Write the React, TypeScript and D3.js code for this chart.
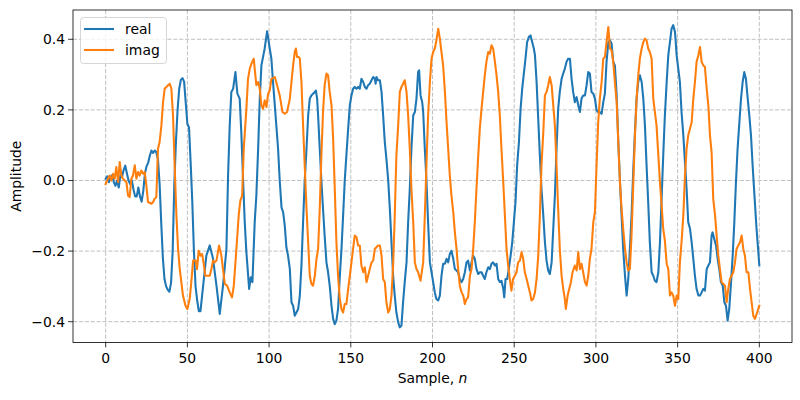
import * as d3 from 'd3'

// [sample n, amplitude]
const realPts: [number, number][] = [
  [0,0.005],[1,0.012],[2,-0.005],[3,0.01],[4,0.015],[5,-0.005],[6,-0.015],[7,0.0],[8,-0.02],[9,0.015],[10,0.01],[11,0.03],[12,0.042],[13,0.02],[14,0.0],[15,-0.01],[16,0.0],[17,-0.025],[18,-0.045],[19,-0.045],[20,-0.02],[21,-0.045],[22,-0.06],[23,-0.03],[24,0.02],[25,0.04],[26,0.05],[27,0.07],[28,0.085],[29,0.078],[30,0.085],[31,0.08],[32,0.06],[33,-0.01],[34,-0.12],[35,-0.22],[36,-0.28],[37,-0.30],[38,-0.31],[39,-0.315],[40,-0.29],[41,-0.2],[42,-0.01],[43,0.11],[44,0.2],[45,0.26],[46,0.285],[47,0.29],[48,0.28],[49,0.22],[50,0.16],[51,0.15],[52,0.05],[53,-0.06],[54,-0.2],[55,-0.3],[56,-0.34],[57,-0.37],[58,-0.37],
  [59.6,-0.30],[61.6,-0.213],[63.7,-0.184],[65.7,-0.222],[67.8,-0.298],[69.8,-0.378],[71.8,-0.298],[73.9,-0.194],[74.9,0.014],[75.9,0.156],[76.9,0.251],[78,0.26],[79.4,0.307],[80.6,0.246],[82,0.232],[83,0.137],[84.1,0],[85.1,-0.118],[86.1,-0.203],[87.8,-0.307],[88.8,-0.274],[89.8,-0.288],[91.2,-0.118],[92.2,-0.043],[93.3,0.09],[94.3,0.232],[95.3,0.326],[97.3,0.374],[98.8,0.423],[100.4,0.374],[101.4,0.345],[102.4,0.279],[103.5,0.213],[105.5,0.09],[106.5,0],[107.6,-0.076],[108.6,-0.09],[109.6,-0.128],[110.6,-0.19],
  [111.6,-0.213],[112.7,-0.251],[113.7,-0.345],[114.7,-0.355],[115.7,-0.383],[116.7,-0.374],[117.8,-0.364],[118.8,-0.326],[119.8,-0.241],[120.8,-0.118],[121.8,0],[122.9,0.09],[123.9,0.184],[124.9,0.232],[125.9,0.241],[126.9,0.246],[128,0.251],[128.6,0.255],[129.4,0.232],[130,0.184],[131,0.09],[132,0],[133,-0.08],[134,-0.156],[135.1,-0.232],[136.1,-0.26],[137.1,-0.298],[138.2,-0.355],[139.2,-0.392],[140.2,-0.407],[141.2,-0.397],[142.2,-0.364],[143.3,-0.27],[144.3,-0.194],[145.3,-0.099],[146.3,0],[147.3,0.071],[148.4,0.147],[149.4,0.213],[150.4,0.241],[151.4,0.26],[152.4,0.265],[153.5,0.26],[154.5,0.265],[155.5,0.26],[156.5,0.288],[157.6,0.279],[158.6,0.265],[159.6,0.26],[160.6,0.27],[161.6,0.274],[162.7,0.284],[163.7,0.293],[164.7,0.288],[165.2,0.274],[165.7,0.293],[166.7,0.284],[167.8,0.284],[168.8,0.251],[169.8,0.184],[170.8,0.109],
  [171.8,0.061],[172.9,0],[173.9,-0.08],[174.9,-0.175],[175.9,-0.27],[176.9,-0.326],[177.9,-0.374],[179,-0.402],[180,-0.416],[181,-0.411],[182,-0.345],[183,-0.288],[184.1,-0.232],[185.1,-0.118],[186.1,-0.024],[187.1,0.09],[188.2,0.184],[189.2,0.194],[190.2,0.232],[191.2,0.307],[191.8,0.312],[192.7,0.241],[193.7,0.222],[194.3,0.194],[195.3,0.09],[196.3,0],[197.3,-0.118],[198.4,-0.232],[199.4,-0.26],[200.4,-0.288],[201.4,-0.317],[202.4,-0.336],[203.5,-0.34],[204.5,-0.326],[205.5,-0.27],[206.5,-0.236],[207.6,-0.236],[208.6,-0.222],[209.6,-0.232],[210.6,-0.208],[211.6,-0.199],[212.7,-0.222],[213.7,-0.251],[214.7,-0.255],[215.7,-0.26],[216.7,-0.279],[217.8,-0.288],[218.8,-0.279],[219.8,-0.26],[220.8,-0.232],[221.8,-0.227],[222.9,-0.255],[223.9,-0.232],[224.9,-0.213],[225.9,-0.222],[226.9,-0.251],[228,-0.265],[229,-0.26],
  [230,-0.26],[231,-0.27],[232,-0.279],[233,-0.26],[234.1,-0.246],[235.1,-0.251],[236.1,-0.236],[237.1,-0.232],[238.2,-0.241],[239.2,-0.236],[240.2,-0.279],[241.2,-0.288],[242.2,-0.284],[243.3,-0.307],[243.9,-0.331],[244.7,-0.279],[245.7,-0.279],[246.7,-0.251],[247.8,-0.213],[248.8,-0.175],[249.8,-0.118],[250.8,-0.061],[251.8,0.043],[252.9,0.109],[253.9,0.203],[254.9,0.26],[255.9,0.303],[256.9,0.345],[257.9,0.392],[259,0.407],[260,0.411],[261,0.392],[262,0.374],[262.7,0.355],[263.7,0.279],[264.7,0.175],[265.7,0.071],[266.7,-0.024],[267.8,-0.099],[268.8,-0.175],[269.8,-0.227],[270.8,-0.255],[271.8,-0.265],[272.9,-0.232],[273.9,-0.137],[274.9,-0.043],[275.9,0.09],[276.9,0.203],[277.9,0.251],[279,0.288],[280,0.303],[281,0.317],[282,0.336],[283,0.345],
  [284.1,0.345],[285.1,0.288],[286.1,0.251],[287.1,0.222],[288.2,0.236],[289.2,0.213],[290.2,0.194],[291.2,0.232],[292.2,0.241],[293.3,0.241],[294.3,0.27],[295.3,0.307],[296.3,0.303],[297.3,0.251],[298.4,0.246],[299.4,0.232],[300.4,0.199],[301.4,0.194],[302.4,0.194],[303.5,0.189],[304.5,0.222],[305.5,0.246],[306.5,0.336],[307.6,0.392],[308.6,0.397],[309.6,0.388],[310.6,0.336],[311.6,0.326],[312.7,0.241],[313.7,0.109],[314.7,0],[315.7,-0.099],[316.7,-0.194],[317.8,-0.27],[318.8,-0.326],[319.8,-0.279],[320.8,-0.194],[321.8,-0.099],[322.9,0.033],[323.9,0.137],[324.9,0.232],[325.9,0.279],[326.9,0.298],[328,0.279],[329,0.232],[330,0.156],[331,0.043],[332,-0.061],[333,-0.175],[334.1,-0.26],[335.1,-0.27],[336.1,-0.284],[337.1,-0.288],[338.2,-0.26],[339.2,-0.175],[340.2,-0.052],[341.2,0.071],[342.2,0.184],
  [343.3,0.279],[344.3,0.355],[345.3,0.392],[346.3,0.43],[347.3,0.44],[348.4,0.421],[349.4,0.355],[350.4,0.317],[351.4,0.279],[352.4,0.194],[353.5,0.128],[354.5,0.052],[355.5,-0.024],[356.5,-0.118],[357.6,-0.137],[358.6,-0.175],[359.6,-0.222],[360.6,-0.27],[361.6,-0.307],[362.7,-0.326],[363.7,-0.326],[364.7,-0.317],[365.7,-0.307],[366.7,-0.312],[367.8,-0.251],[368.8,-0.241],[369.8,-0.232],[370.8,-0.156],[371.4,-0.147],[372.4,-0.165],[373.5,-0.184],[374.5,-0.222],[375.5,-0.251],[376.5,-0.288],[377.6,-0.298],[378.6,-0.345],[379.6,-0.355],[380.6,-0.397],[381.6,-0.364],[382.7,-0.288],[383.7,-0.213],[384.7,-0.118],[385.7,-0.005],[386.7,0.09],[387.8,0.165],[388.8,0.232],[389.8,0.279],[390.8,0.307],[391.8,0.288],[392.9,0.232],[393.9,0.184],[394.9,0.128],[395.9,0.043],[396.9,-0.033],[398.2,-0.13],[400,-0.24],
]

const imagPts: [number, number][] = [
  [0,-0.01],[1.4,0.005],[2.4,0.014],[3.5,0],[4.5,0.019],[5.5,0.005],[6.5,0.038],[7.6,-0.005],[8.6,0.052],[9.6,0.014],[10.6,0.005],[12.7,-0.005],[13.7,-0.043],[14.7,-0.047],[15.7,0.005],[16.7,0.014],[17.8,0.043],[18.8,0.005],[19.8,0.024],[20.8,0.014],[21.8,0.028],[22.9,0.019],[23.9,0.024],[24.9,-0.014],[25.9,-0.061],[28,-0.066],[29,-0.061],[30,-0.052],[31,-0.047],[32,0.09],[33,0.109],[34.1,0.156],[35.1,0.222],[36.1,0.26],[38.2,0.27],[39.2,0.274],[40.2,0.26],[41.2,0.185],[42.2,0.043],[43.3,-0.1],[44.3,-0.194],[45.3,-0.25],[47.3,-0.326],[48.8,-0.354],[50,-0.364],[51.4,-0.336],[52.4,-0.288],[53.5,-0.227],
  [55.1,-0.227],[55.9,-0.251],[56.9,-0.199],[58,-0.213],[59,-0.208],[60,-0.236],[61,-0.27],[62.7,-0.27],[63.7,-0.27],[64.7,-0.251],[65.7,-0.227],[66.7,-0.232],[67.8,-0.227],[69.4,-0.184],[70.8,-0.213],[71.8,-0.251],[72.9,-0.293],[74.3,-0.298],[75.9,-0.317],[77.3,-0.331],[78.4,-0.298],[80,-0.194],[81.4,-0.099],[82.4,-0.057],[83.5,-0.043],[84.5,0.09],[86.1,0.203],[87.1,0.288],[88.2,0.317],[89.2,0.331],[90.6,0.345],[91.6,0.298],[92.2,0.27],[93.3,0.279],[94.3,0.26],[95.3,0.213],[96.3,0.203],[97.3,0.227],[98.4,0.208],[99.4,0.246],[100.4,0.255],[101.4,0.288],[103.5,0.293],[104.9,0.27],[106.5,0.241],[108.2,0.194],[109.6,0.189],[111,0.194],[112.7,0.232],
  [113.7,0.279],[114.7,0.326],[115.7,0.364],[116.4,0.374],[117.1,0.35],[118.2,0.35],[118.8,0.345],[119.8,0.279],[120.8,0.156],[121.8,0.043],[122.9,-0.08],[123.9,-0.175],[124.9,-0.27],[125.9,-0.293],[126.9,-0.298],[128,-0.27],[129,-0.222],[130,-0.194],[131,-0.08],[132,0.071],[133,0.194],[134,0.27],[135.1,0.303],[136.1,0.298],[137.1,0.251],[138.2,0.213],[139.2,0.118],[140.2,-0.024],[141.2,-0.175],[142.2,-0.27],[143.3,-0.336],[144.3,-0.364],[145.3,-0.374],[146.3,-0.35],[147.3,-0.35],[148.4,-0.307],[149.4,-0.27],[150.4,-0.232],[151.4,-0.194],[152.4,-0.156],[153.5,-0.161],[154.5,-0.184],[155.5,-0.184],[156.5,-0.241],[157.6,-0.26],[158.6,-0.246],[159.6,-0.288],[160.6,-0.27],[161.6,-0.251],[162.7,-0.232],[163.7,-0.227],[164.7,-0.194],[165.7,-0.189],[166.7,-0.184],[167.8,-0.184],[168.8,-0.213],[169.8,-0.279],[170.8,-0.288],
  [171.8,-0.345],[172.9,-0.374],[173.9,-0.364],[174.9,-0.326],[175.9,-0.241],[176.9,-0.099],[177.9,0.071],[179,0.156],[180,0.251],[181,0.265],[182,0.274],[183,0.284],[184.1,0.251],[185.1,0.184],[186.1,0.09],[187.1,-0.024],[188.2,-0.118],[189.2,-0.232],[190.2,-0.251],[191.2,-0.26],[192.7,-0.284],[193.7,-0.251],[194.3,-0.232],[195.3,-0.099],[196.3,0.043],[197.3,0.184],[198.4,0.279],[199.4,0.345],[200.4,0.364],[201.4,0.374],[202.4,0.397],[203.5,0.43],[204.5,0.402],[205.5,0.364],[206.5,0.326],[207.6,0.251],[208.6,0.165],[209.6,0.09],[210.6,0.014],[211.6,-0.043],[212.7,-0.09],[213.7,-0.147],[214.7,-0.194],[215.7,-0.251],[216.7,-0.298],[217.8,-0.317],[218.8,-0.326],[219.8,-0.35],[220.8,-0.336],[221.8,-0.331],[222.9,-0.27],[223.9,-0.251],[224.9,-0.194],[225.9,-0.118],[226.9,-0.024],[228,0.071],[229,0.15],
  [230,0.203],[231,0.251],[232,0.298],[233,0.336],[234.1,0.364],[235.1,0.359],[236.1,0.383],[237.1,0.374],[238.2,0.336],[239.2,0.298],[240.2,0.251],[241.2,0.184],[242.2,0.09],[243.3,-0.005],[244.3,-0.099],[245.3,-0.194],[246.3,-0.241],[247.3,-0.279],[248.3,-0.312],[249.3,-0.279],[250.4,-0.27],[251.4,-0.26],[252.4,-0.232],[253.5,-0.227],[254.5,-0.203],[255.5,-0.222],[256.5,-0.26],[257.6,-0.279],[258.6,-0.298],[259.6,-0.317],[260.6,-0.34],[261.6,-0.336],[262.7,-0.317],[263.7,-0.279],[264.7,-0.213],[265.7,-0.099],[266.7,0.043],[267.8,0.137],[268.8,0.241],[269.8,0.251],[270.8,0.27],[271.8,0.293],[272.9,0.27],[273.9,0.213],[274.9,0.156],[275.9,0.043],[276.9,-0.08],[277.9,-0.194],[279,-0.27],[280,-0.307],[281,-0.336],[281.6,-0.364],[282.7,-0.326],[283.7,-0.307],[284.7,-0.288],[285.7,-0.26],
  [287.1,-0.241],[288.2,-0.255],[289.2,-0.203],[290.2,-0.251],[291.2,-0.236],[292.2,-0.26],[293.3,-0.288],[294.3,-0.298],[295.3,-0.27],[296.3,-0.222],[297.3,-0.194],[298.4,-0.118],[299.4,-0.09],[300.4,0.043],[301.4,0.165],[302.4,0.232],[303.5,0.279],[304.5,0.345],[305.5,0.35],[306.5,0.392],[307.6,0.435],[308.6,0.374],[309.6,0.369],[310.6,0.336],[311.6,0.279],[312.7,0.222],[313.7,0.109],[314.7,-0.005],[315.7,-0.08],[316.7,-0.137],[317.8,-0.194],[318.8,-0.232],[319.8,-0.255],[320.8,-0.251],[321.8,-0.156],[322.9,-0.005],[323.9,0.128],[324.9,0.232],[325.9,0.298],[326.9,0.345],[328,0.374],[329,0.392],[330,0.402],[331,0.397],[332,0.374],[333,0.364],[334.1,0.345],[335.1,0.232],[336.1,0.194],[337.1,0.156],[338.2,0.071],[339.2,-0.005],[340.2,-0.071],[341.2,-0.137],[342.2,-0.17],
  [343.3,-0.236],[344.3,-0.251],[345.3,-0.326],[346.3,-0.317],[347.3,-0.326],[348.4,-0.355],[349.4,-0.326],[350.4,-0.336],[351.4,-0.232],[352.4,-0.175],[353.5,-0.099],[354.5,0.014],[355.5,0.09],[356.5,0.128],[357.6,0.147],[358.6,0.165],[359.6,0.232],[360.6,0.279],[361.6,0.336],[362.7,0.355],[363.7,0.378],[364.7,0.336],[365.7,0.326],[366.7,0.322],[367.8,0.26],[368.8,0.213],[369.8,0.128],[370.8,0.08],[371.8,-0.052],[372.9,-0.099],[373.9,-0.156],[374.9,-0.213],[375.9,-0.251],[376.9,-0.288],[378,-0.293],[379,-0.298],[380,-0.345],[381,-0.307],[382,-0.279],[383,-0.27],[384.1,-0.26],[385.1,-0.232],[386.1,-0.194],[387.1,-0.184],[388.2,-0.175],[389.2,-0.156],[390.2,-0.194],[391.2,-0.213],[392.2,-0.26],[393.3,-0.26],[394.3,-0.307],[395.3,-0.345],[396.3,-0.383],[397.3,-0.392],[398.4,-0.378],[400,-0.355],
]

const xTicks = [0, 50, 100, 150, 200, 250, 300, 350, 400]
const yTicks = [-0.4, -0.2, 0.0, 0.2, 0.4]
const seriesNames = ['real', 'imag']
const seriesColors = ['#1f77b4', '#ff7f0e']

const W = 800
const H = 400
const margin = { left: 73, right: 8, top: 10, bottom: 57.5 }
const FONT = 'DejaVu Sans, sans-serif'

export default function App() {
  const x = d3.scaleLinear().domain([-20, 420]).range([margin.left, W - margin.right])
  const y = d3.scaleLinear().domain([-0.459, 0.483]).range([H - margin.bottom, margin.top])

  const line = d3.line<[number, number]>()
    .x(d => x(d[0]))
    .y(d => y(d[1]))

  const fmtY = (v: number) => {
    const s = v.toFixed(1)
    return v < 0 ? '\u2212' + s.slice(1) : s
  }

  const x0 = margin.left
  const x1 = W - margin.right
  const y0 = margin.top
  const y1 = H - margin.bottom

  return (
    <div style={{ position: 'absolute', left: 0, top: 0 }}>
      <svg width={W} height={H} style={{ display: 'block', background: '#fff' }} fontFamily={FONT}>
        <defs>
          <clipPath id="plot">
            <rect x={x0} y={y0} width={x1 - x0} height={y1 - y0} />
          </clipPath>
        </defs>

        {/* grid */}
        <g stroke="#b0b0b0" strokeWidth={0.8} strokeDasharray="4.1,1.8">
          {xTicks.map(t => (
            <line key={'gx' + t} x1={x(t)} x2={x(t)} y1={y0} y2={y1} />
          ))}
          {yTicks.map(t => (
            <line key={'gy' + t} x1={x0} x2={x1} y1={y(t)} y2={y(t)} />
          ))}
        </g>

        {/* series */}
        <g clipPath="url(#plot)" fill="none" strokeWidth={2.08} strokeLinejoin="round" strokeLinecap="square">
          <path d={line(realPts) ?? ''} stroke={seriesColors[0]} />
          <path d={line(imagPts) ?? ''} stroke={seriesColors[1]} />
        </g>

        {/* frame */}
        <rect x={x0} y={y0} width={x1 - x0} height={y1 - y0} fill="none" stroke="#000" strokeWidth={0.8} />

        {/* x axis */}
        <g fontSize={13.9} textAnchor="middle" fill="#000">
          {xTicks.map(t => (
            <g key={'tx' + t}>
              <line x1={x(t)} x2={x(t)} y1={y1} y2={y1 + 4.9} stroke="#000" strokeWidth={0.8} />
              <text x={x(t)} y={y1 + 20.5}>{t}</text>
            </g>
          ))}
          <text x={(x0 + x1) / 2} y={y1 + 40}>
            Sample, <tspan fontStyle="italic">n</tspan>
          </text>
        </g>

        {/* y axis */}
        <g fontSize={13.9} fill="#000">
          {yTicks.map(t => (
            <g key={'ty' + t}>
              <line x1={x0 - 4.9} x2={x0} y1={y(t)} y2={y(t)} stroke="#000" strokeWidth={0.8} />
              <text x={x0 - 8} y={y(t)} dy="0.35em" textAnchor="end">{fmtY(t)}</text>
            </g>
          ))}
          <text transform={`translate(21,${(y0 + y1) / 2}) rotate(-90)`} textAnchor="middle">Amplitude</text>
        </g>

        {/* legend */}
        <g>
          <rect x={80.5} y={17.5} width={86} height={46} rx={3} fill="#fff" fillOpacity={0.8} stroke="#cccccc" strokeWidth={0.8} />
          {seriesNames.map((name, i) => (
            <g key={name}>
              <line x1={84} x2={114} y1={29 + i * 21} y2={29 + i * 21} stroke={seriesColors[i]} strokeWidth={2.08} />
              <text x={125} y={29 + i * 21} dy="0.35em" fontSize={13.9} fill="#000">{name}</text>
            </g>
          ))}
        </g>
      </svg>
    </div>
  )
}
